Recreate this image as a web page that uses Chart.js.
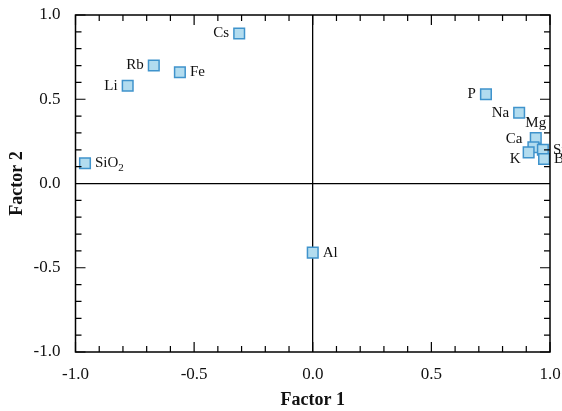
<!DOCTYPE html>
<html>
<head>
<meta charset="utf-8">
<script src="https://cdn.jsdelivr.net/npm/chart.js@4"></script>
<style>
  html, body { margin: 0; padding: 0; background: #fff; }
  #wrap { width: 562px; height: 411px; }
</style>
</head>
<body>
<div id="wrap"><canvas id="factorChart" width="562" height="411"></canvas></div>
<script>
// element names and loadings
const elements = ['Cs', 'Rb', 'Fe', 'Li', 'SiO2', 'Al', 'P', 'Na', 'Mg', 'Ca', 'K', 'Sr', 'Ba'];
const factor1 = [-0.31, -0.67, -0.56, -0.78, -0.96, 0.0, 0.73, 0.87, 0.94, 0.93, 0.91, 0.97, 0.975];
const factor2 = [0.89, 0.70, 0.66, 0.58, 0.12, -0.41, 0.53, 0.42, 0.27, 0.215, 0.185, 0.20, 0.145];
const tickValues = [-1.0, -0.5, 0.0, 0.5, 1.0];

// where each label goes relative to its square
const labelSide = { Cs: 'left', Rb: 'left', Li: 'left', Fe: 'right', SiO2: 'right', Al: 'right',
  P: 'left', Na: 'left', Mg: 'above', Ca: 'leftUp', K: 'leftDown', Sr: 'right', Ba: 'right' };

const serif = '"Liberation Serif", "Times New Roman", serif';

const points = elements.map((name, i) => ({ x: factor1[i], y: factor2[i], name: name }));

// box, inward ticks on all four sides, point labels
const framePlugin = {
  id: 'frame',
  afterDatasetsDraw(chart) {
    const ctx = chart.ctx;
    const a = chart.chartArea;
    const xs = chart.scales.x, ys = chart.scales.y;
    ctx.save();
    ctx.strokeStyle = '#000';
    ctx.lineWidth = 1.5;
    ctx.strokeRect(a.left, a.top, a.right - a.left, a.bottom - a.top);
    ctx.lineWidth = 1.2;
    for (let k = -10; k <= 10; k++) {
      const v = k / 10;
      const len = (k % 5 === 0) ? 10 : 6;
      const px = xs.getPixelForValue(v);
      const py = ys.getPixelForValue(v);
      ctx.beginPath();
      ctx.moveTo(px, a.bottom); ctx.lineTo(px, a.bottom - len);
      ctx.moveTo(px, a.top); ctx.lineTo(px, a.top + len);
      ctx.moveTo(a.left, py); ctx.lineTo(a.left + len, py);
      ctx.moveTo(a.right, py); ctx.lineTo(a.right - len, py);
      ctx.stroke();
    }
    ctx.restore();

    // labels
    const meta = chart.getDatasetMeta(0);
    ctx.save();
    ctx.fillStyle = '#111';
    ctx.font = '15px ' + serif;
    ctx.textBaseline = 'middle';
    meta.data.forEach((el, i) => {
      const name = elements[i];
      const side = labelSide[name];
      const x = el.x, y = el.y;
      if (name === 'SiO2') {
        ctx.textAlign = 'left';
        ctx.fillText('SiO', x + 10, y);
        const w = ctx.measureText('SiO').width;
        ctx.font = '11px ' + serif;
        ctx.fillText('2', x + 10 + w, y + 5);
        ctx.font = '15px ' + serif;
        return;
      }
      if (side === 'right') { ctx.textAlign = 'left'; ctx.fillText(name, x + 10, y); }
      else if (side === 'left') { ctx.textAlign = 'right'; ctx.fillText(name, x - 10, y); }
      else if (side === 'leftUp') { ctx.textAlign = 'right'; ctx.fillText(name, x - 11, y - 8); }
      else if (side === 'leftDown') { ctx.textAlign = 'right'; ctx.fillText(name, x - 8, y + 7); }
      else if (side === 'above') { ctx.textAlign = 'center'; ctx.fillText(name, x, y - 15); }
    });
    ctx.restore();
  }
};

new Chart(document.getElementById('factorChart'), {
  type: 'scatter',
  data: {
    datasets: [{
      data: points,
      pointStyle: 'rect',
      pointRadius: 7.5,
      pointHoverRadius: 7.5,
      pointBackgroundColor: '#b2dcef',
      pointBorderColor: '#3f93cc',
      pointBorderWidth: 1.5
    }]
  },
  options: {
    responsive: false,
    animation: false,
    events: [],
    layout: { padding: { top: 15, right: 12, left: 0, bottom: 0 } },
    plugins: { legend: { display: false }, tooltip: { enabled: false } },
    scales: {
      x: {
        type: 'linear', min: -1, max: 1,
        afterBuildTicks: s => { s.ticks = tickValues.map(v => ({ value: v })); },
        afterFit: s => { s.height = 59; s.paddingLeft = 0; s.paddingRight = 0; },
        grid: {
          drawTicks: false,
          color: c => (c.tick && c.tick.value === 0) ? '#000' : 'rgba(0,0,0,0)',
          lineWidth: 1.3
        },
        border: { display: false },
        ticks: {
          color: '#111', padding: 12, maxRotation: 0,
          font: { family: serif, size: 17 },
          callback: v => v.toFixed(1)
        },
        title: {
          display: true, text: 'Factor 1', color: '#111',
          font: { family: serif, size: 18, weight: 'bold' },
          padding: { top: 2, bottom: 0 }
        }
      },
      y: {
        type: 'linear', min: -1, max: 1,
        afterBuildTicks: s => { s.ticks = tickValues.map(v => ({ value: v })); },
        afterFit: s => { s.width = 75.5; s.paddingTop = 0; s.paddingBottom = 0; },
        grid: {
          drawTicks: false,
          color: c => (c.tick && c.tick.value === 0) ? '#000' : 'rgba(0,0,0,0)',
          lineWidth: 1.3
        },
        border: { display: false },
        ticks: {
          color: '#111', padding: 15,
          font: { family: serif, size: 17 },
          callback: v => v.toFixed(1)
        },
        title: {
          display: true, text: 'Factor 2', color: '#111',
          font: { family: serif, size: 18, weight: 'bold' },
          padding: { top: 7, bottom: 0 }
        }
      }
    }
  },
  plugins: [framePlugin]
});
</script>
</body>
</html>
